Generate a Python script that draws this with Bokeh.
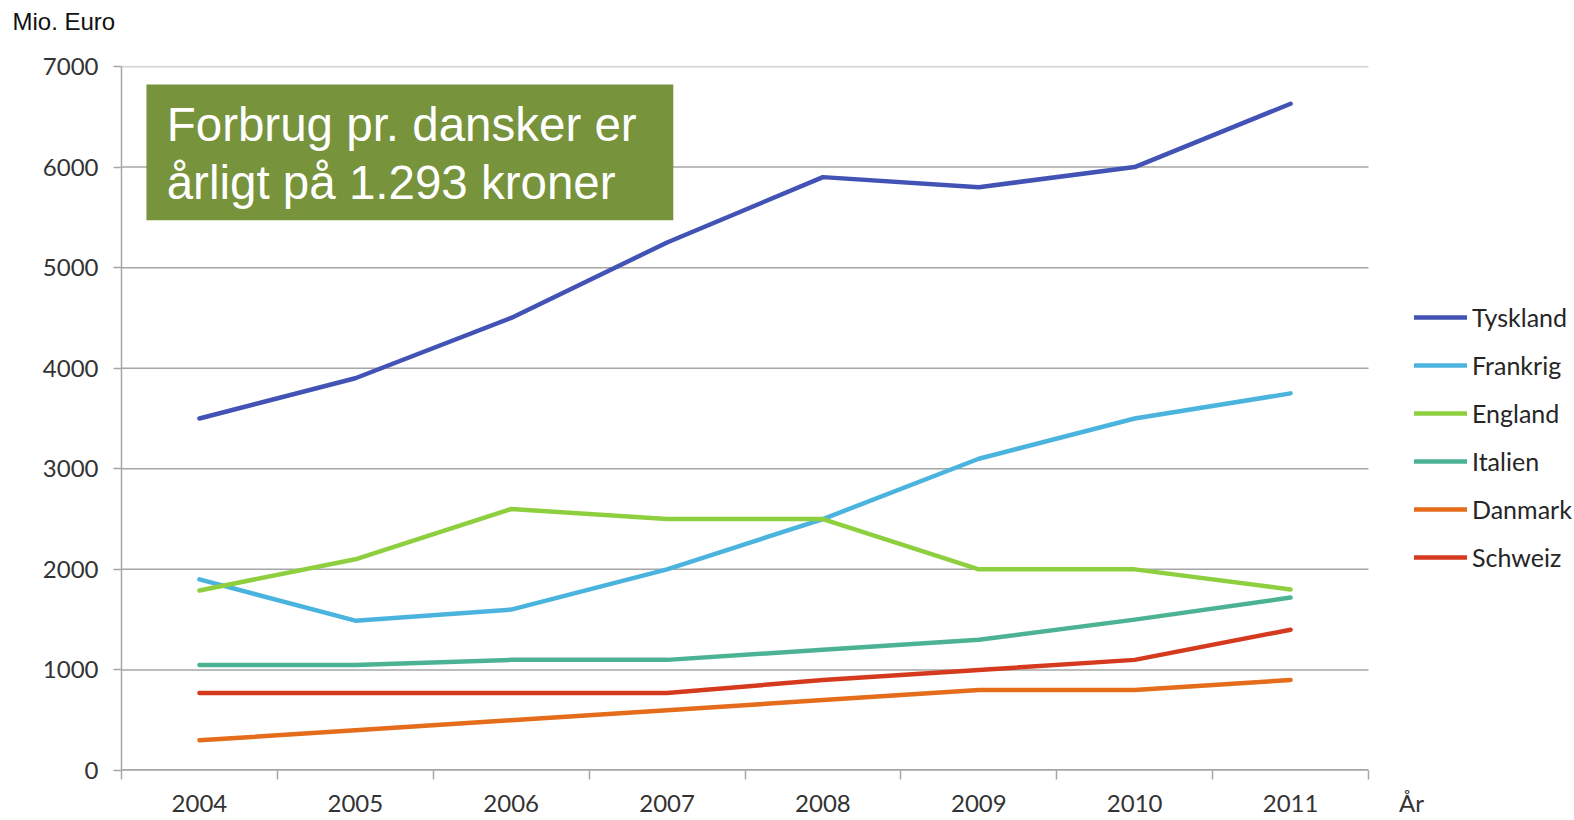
from bokeh.plotting import figure
from bokeh.models import (Range1d, FixedTicker, Legend, LegendItem, Label, BoxAnnotation, Title)
from bokeh.embed import file_html
from bokeh.resources import INLINE

years = [2004, 2005, 2006, 2007, 2008, 2009, 2010, 2011]
year_labels = ["2004", "2005", "2006", "2007", "2008", "2009", "2010", "2011"]
y_ticks = [0, 1000, 2000, 3000, 4000, 5000, 6000, 7000]

tyskland = [3500, 3900, 4500, 5250, 5900, 5800, 6000, 6630]
frankrig = [1900, 1490, 1600, 2000, 2500, 3100, 3500, 3750]
england = [1790, 2100, 2600, 2500, 2500, 2000, 2000, 1800]
italien = [1050, 1050, 1100, 1100, 1200, 1300, 1500, 1720]
danmark = [300, 400, 500, 600, 700, 800, 800, 900]
schweiz = [770, 770, 770, 770, 900, 1000, 1100, 1400]

series_names = ["Tyskland", "Frankrig", "England", "Italien", "Danmark", "Schweiz"]
series_values = [tyskland, frankrig, england, italien, danmark, schweiz]
colors = ["#4253B5", "#4BB4DE", "#8DCF3F", "#4BB394", "#E46C1A", "#D63A1E"]

TICK_FONT = "Lato"
GRID = "#A6A6A6"

# geometry: category area is 1247 px wide for 8 categories; the frame extends to the
# right edge of the canvas so that the legend and the "År" caption can sit inside it
W, H = 1574, 820
LEFT, TOP, BOTTOM = 121, 66, 50
cat_px = 1247 / 8
x0 = years[0] - 0.5
x_cat_end = years[-1] + 0.5
x_end = x0 + (W - LEFT) / cat_px
ar_pos = x0 + (1411 - LEFT) / cat_px

p = figure(width=W, height=H, output_backend="svg", toolbar_location=None,
           x_range=Range1d(x0, x_end), y_range=Range1d(0, 7000),
           min_border_left=LEFT, min_border_right=0, min_border_top=TOP,
           min_border_bottom=BOTTOM)
p.outline_line_color = None
p.background_fill_color = "white"
p.border_fill_color = "white"
p.title.text = ""
p.title.standoff = 0

# unit label "Mio. Euro" as a title, lifted by an empty spacer title next to the frame
spacer = Title(text="\u00a0", text_font_size="26px", standoff=0, align="left")
p.add_layout(spacer, "above")
unit_title = Title(text="Mio. Euro", align="left", offset=-109, standoff=0,
                   text_font="Liberation Sans", text_font_size="24px",
                   text_font_style="normal", text_color="#111111")
p.add_layout(unit_title, "above")

# x axis: year labels at centres, "År" caption at the right, tick marks at boundaries
bounds = [y - 0.5 for y in years] + [x_cat_end]
overrides = {y: s for y, s in zip(years, year_labels)}
overrides[ar_pos] = "År"
p.xaxis.ticker = FixedTicker(ticks=years + [ar_pos], minor_ticks=bounds)
p.xaxis.major_label_overrides = overrides
p.xaxis.major_tick_out = 0
p.xaxis.major_tick_in = 0
p.xaxis.minor_tick_out = 9
p.xaxis.minor_tick_in = 0
p.xaxis.minor_tick_line_color = GRID
p.xaxis.minor_tick_line_width = 1.5
p.xaxis.axis_line_color = None
p.xaxis.major_label_standoff = 8
p.xaxis.major_label_text_font = TICK_FONT
p.xaxis.major_label_text_font_size = "24px"
p.xaxis.major_label_text_color = "#333333"
p.xgrid.grid_line_color = None

p.yaxis.ticker = FixedTicker(ticks=y_ticks, minor_ticks=[])
p.yaxis.major_tick_out = 8
p.yaxis.major_tick_in = 0
p.yaxis.major_tick_line_color = GRID
p.yaxis.major_tick_line_width = 1.5
p.yaxis.axis_line_color = GRID
p.yaxis.axis_line_width = 1.5
p.yaxis.major_label_standoff = 15
p.yaxis.major_label_text_font = TICK_FONT
p.yaxis.major_label_text_font_size = "24px"
p.yaxis.major_label_text_color = "#333333"
p.ygrid.grid_line_color = None

# horizontal grid lines (and the x-axis line at 0) over the category area only
p.segment(x0=[x0] * len(y_ticks), x1=[x_cat_end] * len(y_ticks), y0=y_ticks, y1=y_ticks,
          line_color=GRID, line_width=1.5)
p.segment(x0=[x0], x1=[x_cat_end], y0=[y_ticks[0]], y1=[y_ticks[0]],
          line_color=GRID, line_width=3)

items = []
for name, vals, col in zip(series_names, series_values, colors):
    r = p.line(years, vals, line_color=col, line_width=4.5, line_cap="round", line_join="round")
    items.append(LegendItem(label=name, renderers=[r]))

legend = Legend(items=items, location=(1293, 198), orientation="vertical",
                glyph_width=53, glyph_height=24, label_standoff=5, spacing=18,
                padding=0, margin=0, border_line_color=None, background_fill_alpha=0,
                label_text_font=TICK_FONT, label_text_font_size="25px",
                label_text_color="#262626", label_height=24)
p.add_layout(legend, "center")

# green annotation box
box = BoxAnnotation(left=2003.66, right=2007.04, top=6820, bottom=5470,
                    fill_color="#77933C", fill_alpha=1.0, line_color=None, level="overlay")
p.add_layout(box)
p.add_layout(Label(x=2003.79, y=6420, text="Forbrug pr. dansker er", text_color="white",
                   text_font="Liberation Sans", text_font_size="47.5px", text_baseline="middle",
                   level="overlay"))
p.add_layout(Label(x=2003.79, y=5850, text="årligt på 1.293 kroner", text_color="white",
                   text_font="Liberation Sans", text_font_size="47.5px", text_baseline="middle",
                   level="overlay"))

open("out.html", "w").write(file_html(p, INLINE))
